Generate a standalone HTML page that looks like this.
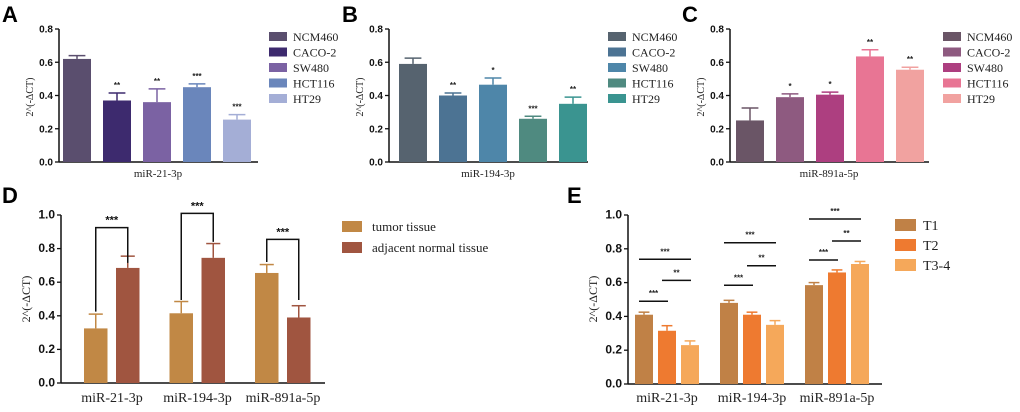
<!DOCTYPE html>
<html><head><meta charset="utf-8"><style>
html,body{margin:0;padding:0;background:#fff;}
svg{display:block;}
.tk{font:bold 10px "Liberation Sans",sans-serif;fill:#111;}
.tkb{font:bold 12px "Liberation Sans",sans-serif;fill:#111;}
.sr{font-family:"Liberation Serif",serif;fill:#222;}
.pl{font:bold 22px "Liberation Sans",sans-serif;fill:#000;}
.st{font:bold 8px "Liberation Sans",sans-serif;fill:#222;}
.stb{font:bold 11px "Liberation Sans",sans-serif;fill:#111;}
</style></head><body>
<svg id="fig" width="1020" height="412" viewBox="0 0 1020 412" xmlns="http://www.w3.org/2000/svg"></svg>
<script>
// Panel A data
const cellLines = ["NCM460","CACO-2","SW480","HCT116","HT29"];
const aValues = [0.62,0.37,0.36,0.45,0.255];
const aErrors = [0.64,0.415,0.44,0.47,0.285];
const aStars = ["","**","**","***","***"];
// Panel B data
const bValues = [0.59,0.40,0.465,0.26,0.35];
const bErrors = [0.625,0.415,0.505,0.275,0.39];
const bStars = ["","**","*","***","**"];
// Panel C data
const cValues = [0.25,0.39,0.405,0.635,0.555];
const cErrors = [0.325,0.41,0.42,0.675,0.57];
const cStars = ["","*","*","**","**"];
const smallTicks = ["0.0","0.2","0.4","0.6","0.8"];
// Panel D data
const mirnas = ["miR-21-3p","miR-194-3p","miR-891a-5p"];
const dSeries = ["tumor tissue","adjacent normal tissue"];
const dTumor = [0.325,0.415,0.655];
const dTumorErr = [0.41,0.485,0.705];
const dAdjacent = [0.685,0.745,0.39];
const dAdjacentErr = [0.755,0.83,0.46];
const dBracketTop = [0.925,1.01,0.855];
const dBracketLeft = [0.425,0.494,0.72];
const dBracketRight = [0.715,0.84,0.494];
// Panel E data
const eSeries = ["T1","T2","T3-4"];
const eT1 = [0.41,0.48,0.585];
const eT1Err = [0.425,0.495,0.6];
const eT2 = [0.315,0.41,0.66];
const eT2Err = [0.345,0.425,0.675];
const eT3 = [0.23,0.35,0.71];
const eT3Err = [0.255,0.375,0.725];
const eSig12 = [0.49,0.584,0.734];
const eSig23 = [0.613,0.70,0.846];
const eSig13 = [0.738,0.836,0.976];
const bigTicks = ["0.0","0.2","0.4","0.6","0.8","1.0"];

const NS="http://www.w3.org/2000/svg";
const svg=document.getElementById('fig');
function mk(tag,attrs,parent,text){const e=document.createElementNS(NS,tag);for(const k in attrs)e.setAttribute(k,attrs[k]);if(text!==undefined)e.textContent=text;(parent||svg).appendChild(e);return e;}

function axes(g,x0,y0,yTop,xEnd,maxV,ticks,cls,name){
  const ax=mk('g',{},g);
  
  
  mk('line',{x1:x0,y1:yTop,x2:x0,y2:y0,stroke:'#111','stroke-width':1.5},ax);
  mk('line',{x1:x0,y1:y0,x2:xEnd,y2:y0,stroke:'#111','stroke-width':1.5},ax);
  ticks.forEach((t,i)=>{const y=y0-(y0-yTop)*(parseFloat(t)/maxV);
    mk('line',{x1:x0-4,y1:y,x2:x0,y2:y,stroke:'#111','stroke-width':1.3},ax);
    const tx=mk('text',{x:x0-6,y:y+3.5,'text-anchor':'end',class:cls},ax,t);
    
    
  });
}
function bar(g,x,w,v,e,col,sy,y0,name){
  const r=mk('rect',{x:x,y:sy(v),width:w,height:y0-sy(v),fill:col},g);
  
  
  const cx=x+w/2;
  mk('line',{x1:cx,y1:sy(v),x2:cx,y2:sy(e),stroke:col,'stroke-width':1.5},g);
  mk('line',{x1:cx-w*0.3,y1:sy(e),x2:cx+w*0.3,y2:sy(e),stroke:col,'stroke-width':1.5},g);
}

function smallPanel(ox,axisX,firstBar,label,xlab,vals,errs,stars,cols,legX,name){
  const g=mk('g',{});
  
  
  const y0=162,yT=29,maxV=0.8;
  const sy=v=>y0-(y0-yT)*v/maxV;
  mk('text',{x:ox+2,y:22,class:'pl'},g,label);
  axes(g,axisX,y0,yT,axisX+199,maxV,smallTicks,'tk',name);
  const yt=mk('text',{x:0,y:0,class:'sr','font-size':10,'text-anchor':'middle',transform:`translate(${axisX-26},97) rotate(-90)`},g,'2^(-ΔCT)');
  
  vals.forEach((v,i)=>{const x=firstBar+i*40;
    bar(g,x,28,v,errs[i],cols[i],sy,y0,'bar-'+cellLines[i].toLowerCase());
    if(stars[i]){const s=mk('text',{x:x+14,y:sy(errs[i])-5,'text-anchor':'middle',class:'st'},g,stars[i]);
      }
  });
  const xl=mk('text',{x:axisX+99,y:177,'text-anchor':'middle',class:'sr','font-size':11},g,xlab);
  
  cellLines.forEach((c,i)=>{const y=32+i*15.5;
    const le=mk('g',{},g);
    
    
    mk('rect',{x:legX,y:y,width:18,height:9,fill:cols[i]},le);
    mk('text',{x:legX+24,y:y+9,class:'sr','font-size':12},le,c);
  });
}
smallPanel(0,59,63,'A','miR-21-3p',aValues,aErrors,aStars,['#5a4e6e','#3d2a6e','#7b62a3','#6a86bb','#a4aed6'],269,'panel-a');
smallPanel(340,389,399,'B','miR-194-3p',bValues,bErrors,bStars,['#56636f','#4c7393','#4e86a9','#4f8a80','#3a9490'],608,'panel-b');
smallPanel(680,730,736,'C','miR-891a-5p',cValues,cErrors,cStars,['#6a5566','#8e5a80','#ad3f80','#e87594','#f1a2a0'],943,'panel-c');

// Panel D
(function(){
  const g=mk('g',{});
  
  
  const y0=383,yT=215,maxV=1.0;const sy=v=>y0-(y0-yT)*v/maxV;
  mk('text',{x:2,y:203,class:'pl'},g,'D');
  axes(g,61,y0,yT,325,maxV,bigTicks,'tkb','panel-d');
  const yt=mk('text',{x:0,y:0,class:'sr','font-size':12,'text-anchor':'middle',transform:'translate(30,299) rotate(-90)'},g,'2^(-ΔCT)');
  
  const cols=['#c18845','#a05540'];
  mirnas.forEach((m,i)=>{const x=84+i*85.5;
    bar(g,x,23.5,dTumor[i],dTumorErr[i],cols[0],sy,y0,'bar-tumor-'+m);
    bar(g,x+32,23.5,dAdjacent[i],dAdjacentErr[i],cols[1],sy,y0,'bar-adjacent-'+m);
    const lx=x+11.75,rx=x+43.75;
    const br=mk('polyline',{points:`${lx},${sy(dBracketLeft[i])} ${lx},${sy(dBracketTop[i])} ${rx},${sy(dBracketTop[i])} ${rx},${sy(dBracketRight[i])}`,fill:'none',stroke:'#111','stroke-width':1.5},g);
    
    mk('text',{x:(lx+rx)/2,y:sy(dBracketTop[i])-4,'text-anchor':'middle',class:'stb'},g,'***');
    const xl=mk('text',{x:x+28,y:402,'text-anchor':'middle',class:'sr','font-size':14},g,m);
    
  });
  dSeries.forEach((s,i)=>{const y=221+i*21;
    const le=mk('g',{},g);
    
    
    mk('rect',{x:342,y:y,width:20,height:11,fill:cols[i]},le);
    mk('text',{x:372,y:y+10,class:'sr','font-size':13},le,s);
  });
})();

// Panel E
(function(){
  const g=mk('g',{});
  
  
  const y0=384,yT=215,maxV=1.0;const sy=v=>y0-(y0-yT)*v/maxV;
  mk('text',{x:567,y:203,class:'pl'},g,'E');
  axes(g,628,y0,yT,882,maxV,bigTicks,'tkb','panel-e');
  const yt=mk('text',{x:0,y:0,class:'sr','font-size':12,'text-anchor':'middle',transform:'translate(597,299) rotate(-90)'},g,'2^(-ΔCT)');
  
  const cols=['#c08146','#ee7a30','#f5a85a'];
  const vals=[eT1,eT2,eT3],errs=[eT1Err,eT2Err,eT3Err];
  mirnas.forEach((m,i)=>{const x=635+i*85;
    const cx=[];
    for(let s=0;s<3;s++){bar(g,x+s*23,18,vals[s][i],errs[s][i],cols[s],sy,y0,'bar-'+eSeries[s]+'-'+m);cx.push(x+s*23+9);}
    const sig=(a,b,v,t)=>{const l=mk('line',{x1:cx[a]-5,y1:sy(v),x2:cx[b]+1,y2:sy(v),stroke:'#111','stroke-width':1.5},g);
      
      mk('text',{x:(cx[a]+cx[b])/2-2,y:sy(v)-5,'text-anchor':'middle',class:'st'},g,t);};
    sig(0,1,eSig12[i],'***');sig(1,2,eSig23[i],'**');sig(0,2,eSig13[i],'***');
    const xl=mk('text',{x:x+32,y:402,'text-anchor':'middle',class:'sr','font-size':14},g,m);
    
  });
  eSeries.forEach((s,i)=>{const y=219+i*20;
    const le=mk('g',{},g);
    
    
    mk('rect',{x:895,y:y,width:21,height:12,fill:cols[i]},le);
    mk('text',{x:923,y:y+11,class:'sr','font-size':14},le,s);
  });
})();
</script>
</body></html>
